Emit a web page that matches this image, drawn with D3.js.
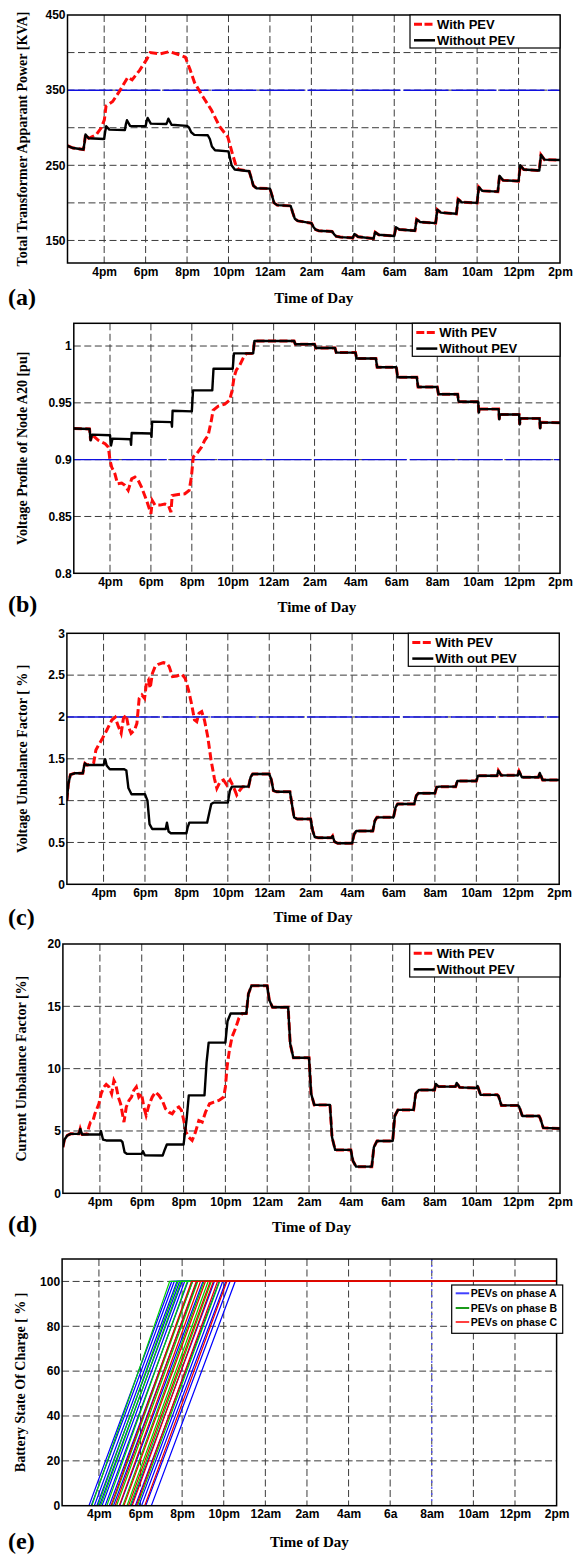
<!DOCTYPE html>
<html><head><meta charset="utf-8">
<script src="https://cdn.jsdelivr.net/npm/d3@7"></script>
<style>body{margin:0;background:#fff}</style>
</head><body><svg id="c" width="573" height="1554" xmlns="http://www.w3.org/2000/svg"></svg>
<script>
// ---------------- DATA ----------------
const timeDomain = [14.23, 38];
const tickHours = [16, 18, 20, 22, 24, 26, 28, 30, 32, 34, 36, 38];
const tickLabels = ["4pm","6pm","8pm","10pm","12am","2am","4am","6am","8am","10am","12pm","2pm"];
const tickLabelsE = ["4pm","6pm","8pm","10pm","12am","2am","4am","6a","8am","10am","12pm","2pm"];

// (a) total transformer apparent power [kVA]
const powerWithout = [[14.23,276],[14.5,273],[15.0,271],[15.05,280],[15.1,291],[15.25,286],[16.0,285],[16.05,295],[16.1,302],[16.25,297.5],[17.0,297],[17.05,305],[17.1,310],[17.25,302.5],[18.0,302],[18.05,309],[18.1,313],[18.25,305.5],[19.0,305],[19.05,308],[19.1,312],[19.25,304],[20.0,302.5],[20.1,300],[20.2,294],[20.35,290.5],[21.0,290],[21.1,285],[21.2,275],[21.35,270],[22.0,268.5],[22.05,262],[22.15,250],[22.3,244.5],[23.0,242],[23.1,233],[23.2,223],[23.35,219.5],[24.0,219],[24.1,210],[24.2,200],[24.35,197],[25.0,196],[25.1,187],[25.2,179],[25.35,176],[26.0,173],[26.1,168],[26.2,164.5],[26.35,163],[27.0,162],[27.1,158],[27.2,155.5],[27.4,154.5],[28.0,153.5],[28.08,158.5],[28.25,155],[29.0,152.5],[29.08,161],[29.25,157.5],[30.0,156],[30.08,167.5],[30.25,164.5],[31.0,163],[31.08,178],[31.25,174.5],[32.0,173],[32.08,191],[32.25,187],[33.0,185.5],[33.08,205],[33.25,201],[34.0,200],[34.08,221],[34.25,216],[35.0,215],[35.08,236],[35.25,230],[36.0,229],[36.08,250],[36.25,244.5],[37.0,243],[37.08,264],[37.25,257.5],[38.0,257]];
const powerPEV = [[15.61,290.6],[15.85,299.5],[16.01,310.6],[16.09,329],[16.41,334.9],[16.78,350.4],[17.14,367.2],[17.35,363.7],[17.7,376],[18.06,391.2],[18.22,400],[18.67,398.2],[19.15,401.3],[19.55,397.8],[19.92,393.8],[20.15,377],[20.36,360.1],[20.76,341.5],[21.17,323.8],[21.57,301.7],[21.97,287.5],[22.18,266.3],[22.37,248.6],[22.5,244.5]];

// (b) voltage profile of node A20 [pu]
const voltWithout = [[14.23,0.9274],[15.0,0.927],[15.05,0.917],[15.12,0.922],[16.0,0.9215],[16.05,0.9125],[16.12,0.9185],[17.0,0.918],[17.03,0.913],[17.06,0.9235],[18.0,0.923],[18.03,0.92],[18.06,0.9335],[19.0,0.933],[19.03,0.929],[19.06,0.943],[20.0,0.9425],[20.06,0.961],[21.0,0.961],[21.06,0.98],[22.0,0.98],[22.06,0.9935],[23.0,0.9935],[23.06,1.0044],[25.0,1.0044],[25.06,1.0015],[26.0,1.0015],[26.06,0.9983],[27.0,0.9983],[27.06,0.9942],[28.0,0.9942],[28.06,0.989],[29.0,0.989],[29.06,0.9813],[30.0,0.9813],[30.06,0.9725],[31.0,0.9725],[31.06,0.964],[32.0,0.964],[32.06,0.9576],[33.0,0.9576],[33.03,0.952],[33.06,0.951],[34.0,0.951],[34.03,0.9415],[34.06,0.9445],[35.0,0.9445],[35.03,0.9355],[35.06,0.9398],[36.0,0.9398],[36.03,0.931],[36.06,0.9363],[37.0,0.9363],[37.03,0.9275],[37.06,0.9328],[38.0,0.9325]];
const voltPEV = [[15.43,0.917],[15.76,0.914],[15.92,0.911],[16.0,0.8994],[16.08,0.8935],[16.24,0.8876],[16.37,0.8788],[16.57,0.8794],[16.73,0.8774],[16.89,0.873],[17.06,0.8832],[17.22,0.8847],[17.38,0.8818],[17.54,0.8759],[17.79,0.8641],[18.0,0.8524],[18.07,0.864],[18.2,0.86],[18.44,0.86],[18.68,0.861],[18.85,0.86],[18.98,0.8538],[19.04,0.8685],[19.33,0.8694],[19.66,0.87],[19.87,0.873],[19.98,0.8847],[20.07,0.9024],[20.23,0.905],[20.47,0.911],[20.63,0.917],[20.8,0.9215],[20.96,0.935],[21.04,0.9435],[21.28,0.947],[21.61,0.9488],[21.85,0.9524],[21.97,0.961],[22.07,0.973],[22.18,0.979],[22.34,0.983],[22.5,0.989],[22.67,0.9935]];

// (c) voltage unbalance factor [%]
const vufWithout = [[14.23,1.0],[14.3,1.2],[14.4,1.31],[14.6,1.327],[15.0,1.327],[15.05,1.4],[15.1,1.446],[15.2,1.426],[16.0,1.426],[16.08,1.494],[16.15,1.42],[16.3,1.375],[17.0,1.375],[17.1,1.36],[17.2,1.15],[17.35,1.076],[18.0,1.076],[18.12,1.0],[18.22,0.72],[18.35,0.661],[19.0,0.661],[19.06,0.737],[19.14,0.63],[19.25,0.61],[20.0,0.61],[20.06,0.68],[20.14,0.737],[21.0,0.737],[21.1,0.85],[21.2,0.96],[21.3,0.976],[22.0,0.976],[22.1,1.12],[22.2,1.167],[23.0,1.167],[23.1,1.28],[23.2,1.319],[24.0,1.319],[24.1,1.25],[24.2,1.12],[24.35,1.107],[25.0,1.107],[25.1,0.95],[25.2,0.8],[25.35,0.78],[26.0,0.78],[26.1,0.64],[26.2,0.565],[26.35,0.557],[27.0,0.557],[27.06,0.577],[27.15,0.51],[27.3,0.49],[28.0,0.49],[28.1,0.6],[28.2,0.637],[29.0,0.637],[29.1,0.76],[29.2,0.8],[30.0,0.8],[30.1,0.92],[30.2,0.96],[31.0,0.96],[31.1,1.06],[31.2,1.088],[32.0,1.088],[32.08,1.16],[32.2,1.167],[33.0,1.167],[33.08,1.235],[34.0,1.235],[34.08,1.298],[35.0,1.298],[35.06,1.358],[35.2,1.302],[36.0,1.302],[36.06,1.352],[36.2,1.279],[37.0,1.279],[37.06,1.33],[37.2,1.247],[38.0,1.247]];
const vufPEV = [[15.52,1.446],[15.63,1.606],[15.76,1.665],[15.95,1.745],[16.16,1.845],[16.4,1.964],[16.56,1.996],[16.72,1.884],[16.85,1.805],[16.96,1.984],[17.09,2.024],[17.2,1.884],[17.33,1.805],[17.5,1.845],[17.61,1.924],[17.72,2.223],[17.85,2.263],[17.98,2.223],[18.07,2.402],[18.17,2.442],[18.25,2.343],[18.36,2.522],[18.49,2.602],[18.65,2.63],[18.89,2.649],[19.05,2.641],[19.17,2.602],[19.33,2.482],[19.54,2.49],[19.78,2.51],[19.94,2.462],[20.1,2.323],[20.26,2.143],[20.39,1.964],[20.5,1.944],[20.61,2.044],[20.74,2.064],[20.87,1.964],[21.03,1.765],[21.19,1.486],[21.35,1.267],[21.47,1.147],[21.63,1.227],[21.79,1.247],[21.95,1.187],[22.11,1.247],[22.27,1.167],[22.43,1.068],[22.59,1.127],[22.72,1.167]];

// (d) current unbalance factor [%]
const cufWithout = [[14.23,3.7],[14.3,4.3],[14.44,4.64],[14.6,4.77],[15.0,4.77],[15.06,5.17],[15.15,4.72],[16.0,4.72],[16.05,4.99],[16.15,4.3],[16.3,4.24],[17.0,4.24],[17.08,4.1],[17.18,3.3],[17.3,3.16],[18.0,3.16],[18.05,3.38],[18.15,3.05],[19.0,3.03],[19.1,3.5],[19.2,3.91],[20.0,3.91],[20.15,6.0],[20.25,7.86],[21.0,7.86],[21.1,10.5],[21.2,12.09],[22.0,12.09],[22.1,13.8],[22.25,14.42],[23.0,14.42],[23.1,16.0],[23.25,16.66],[24.0,16.66],[24.1,15.5],[24.25,14.92],[25.0,14.92],[25.1,12.0],[25.25,10.88],[26.0,10.88],[26.1,8.0],[26.25,7.09],[27.0,7.09],[27.1,4.5],[27.25,3.48],[28.0,3.48],[28.1,2.6],[28.25,2.14],[29.0,2.14],[29.1,3.7],[29.25,4.2],[30.0,4.2],[30.1,6.2],[30.25,6.69],[31.0,6.69],[31.1,8.0],[31.25,8.29],[32.0,8.29],[32.06,8.77],[32.2,8.56],[33.0,8.56],[33.06,8.85],[33.2,8.5],[34.0,8.45],[34.06,8.6],[34.2,7.9],[35.0,7.9],[35.06,7.8],[35.2,7.05],[36.0,7.05],[36.06,6.9],[36.2,6.2],[37.0,6.2],[37.06,6.0],[37.2,5.25],[38.0,5.2]];
const cufPEV = [[15.4,4.75],[15.47,5.31],[15.55,5.71],[15.67,5.84],[15.76,6.38],[15.95,7.18],[16.06,7.99],[16.19,8.53],[16.3,8.74],[16.43,8.53],[16.56,7.99],[16.67,9.06],[16.75,8.8],[16.88,7.72],[16.99,7.18],[17.15,5.71],[17.26,6.92],[17.39,7.45],[17.51,7.72],[17.62,8.26],[17.74,8.53],[17.86,7.72],[17.99,7.99],[18.1,6.92],[18.21,6.25],[18.34,7.05],[18.5,7.72],[18.66,8.12],[18.82,7.86],[18.98,7.45],[19.14,6.78],[19.3,6.51],[19.46,6.38],[19.62,6.78],[19.77,6.92],[19.9,6.65],[20.01,5.84],[20.12,4.91],[20.25,4.5],[20.41,4.24],[20.57,4.91],[20.73,5.84],[20.89,5.71],[21.05,6.51],[21.24,7.18],[21.45,7.32],[21.69,7.45],[21.92,7.72],[22.0,8.53],[22.08,10.13],[22.19,11.47],[22.32,12.55],[22.48,13.22],[22.64,14.02],[22.8,14.42]];

// (e) battery state of charge: charging start / full times (hours)
const phaseAStart = [15.52,15.63,15.78,15.9,16.02,16.15,16.3,16.5,16.7,17.0,17.55,17.75,17.92,18.05,18.25,18.52];
const phaseAEnd   = [19.5,19.62,19.75,19.88,20.0,20.12,20.28,20.5,20.72,21.0,21.55,21.78,21.95,22.1,22.3,22.55];
const phaseBStart = [15.66,15.95,16.08,16.38,16.62,16.85,17.15,17.35,17.5,17.85];
const phaseBEnd   = [19.4,19.8,19.95,20.25,20.5,20.75,21.05,21.25,21.4,21.8];
const phaseCStart = [16.58,16.78,16.98,17.2,17.42,17.6,17.8,18.2];
const phaseCEnd   = [20.45,20.68,20.88,21.12,21.35,21.5,21.7,22.15];
const socLevels = [0, 100];

// ---------------- DRAWING ----------------
const svg = d3.select("#c");
const SANS = "'Liberation Sans', Arial, Helvetica, sans-serif";
const SERIF = "'Liberation Serif', 'Times New Roman', serif";

function combine(base, pev, t0, t1) {
  return base.filter(d => d[0] <= t0).concat(pev, base.filter(d => d[0] >= t1));
}

function panel(cfg) {
  const g = svg.append("g");
  const x = d3.scaleLinear().domain(timeDomain).range([cfg.left, cfg.right]);
  const y = d3.scaleLinear().domain(cfg.yDomain).range([cfg.bottom, cfg.top]);
  const clipId = "clip" + cfg.id;
  svg.append("clipPath").attr("id", clipId).append("rect")
    .attr("x", cfg.left).attr("y", cfg.top)
    .attr("width", cfg.right - cfg.left).attr("height", cfg.bottom - cfg.top);

  // grid
  g.selectAll(".hg").data(cfg.grid).enter().append("line")
    .attr("x1", cfg.left).attr("x2", cfg.right)
    .attr("y1", d => y(d)).attr("y2", d => y(d))
    .attr("stroke", "#3c3c3c").attr("stroke-width", 1).attr("stroke-dasharray", "7,3.5");
  g.selectAll(".vg").data(tickHours.filter(h => h < timeDomain[1])).enter().append("line")
    .attr("x1", d => x(d)).attr("x2", d => x(d))
    .attr("y1", cfg.top).attr("y2", cfg.bottom)
    .attr("stroke", "#3c3c3c").attr("stroke-width", 1).attr("stroke-dasharray", "7,3.5");

  if (cfg.threshold !== undefined) {
    g.append("line").attr("x1", cfg.left).attr("x2", cfg.right)
      .attr("y1", y(cfg.threshold)).attr("y2", y(cfg.threshold))
      .attr("stroke", "#1010e0").attr("stroke-width", cfg.thrW || 1.5)
      .attr("stroke-dasharray", "45,3");
  }
  if (cfg.vmark !== undefined) {
    g.append("line").attr("x1", x(cfg.vmark)).attr("x2", x(cfg.vmark))
      .attr("y1", cfg.top).attr("y2", cfg.bottom)
      .attr("stroke", "#4a4aff").attr("stroke-width", 1.2).attr("stroke-dasharray", "2,4");
  }

  const series = g.append("g").attr("clip-path", `url(#${clipId})`);
  const line = d3.line().x(d => x(d[0])).y(d => y(d[1]));
  cfg.draw(series, line, x, y);

  // box
  g.append("rect").attr("x", cfg.left).attr("y", cfg.top)
    .attr("width", cfg.right - cfg.left).attr("height", cfg.bottom - cfg.top)
    .attr("fill", "none").attr("stroke", "#000").attr("stroke-width", 1.5);

  // axes
  const ax = g.append("g").attr("transform", `translate(0,${cfg.bottom})`)
    .call(d3.axisBottom(x).tickValues(tickHours).tickSize(0).tickPadding(4)
      .tickFormat((d, i) => cfg.xLabels[i]));
  const ay = g.append("g").attr("transform", `translate(${cfg.left},0)`)
    .call(d3.axisLeft(y).tickValues(cfg.ticks).tickSize(0).tickPadding(2)
      .tickFormat(d => String(d)));
  [ax, ay].forEach(a => {
    a.select(".domain").remove();
    a.selectAll("text").attr("font-family", SANS).attr("font-weight", "bold")
      .attr("font-size", 12).attr("fill", "#000");
  });

  // labels
  g.append("text").attr("transform", `translate(${cfg.ylx},${(cfg.top + cfg.bottom) / 2}) rotate(-90)`)
    .attr("text-anchor", "middle").attr("dominant-baseline", "central")
    .attr("font-family", SERIF).attr("font-weight", "bold").attr("font-size", 14)
    .text(cfg.ylabel);
  g.append("text").attr("x", (cfg.left + cfg.right) / 2).attr("y", cfg.xlY)
    .attr("text-anchor", "middle").attr("font-family", SERIF).attr("font-weight", "bold")
    .attr("font-size", 15).text("Time of Day");
  g.append("text").attr("x", 8).attr("y", cfg.letterY)
    .attr("font-family", SERIF).attr("font-weight", "bold").attr("font-size", 24)
    .text(cfg.letter);

  // legend
  const L = cfg.legend;
  const lg = g.append("g");
  lg.append("rect").attr("x", L.x).attr("y", L.y).attr("width", L.w).attr("height", L.h)
    .attr("fill", "#fff").attr("stroke", "#000").attr("stroke-width", 1.2);
  L.items.forEach((it, i) => {
    const yy = L.y + L.rows[i];
    lg.append("line").attr("x1", L.x + L.l0).attr("x2", L.x + L.l1).attr("y1", yy).attr("y2", yy)
      .attr("stroke", it.color).attr("stroke-width", it.w)
      .attr("stroke-dasharray", it.dash || null);
    lg.append("text").attr("x", L.x + L.tx).attr("y", yy).attr("dominant-baseline", "central")
      .attr("font-family", SANS).attr("font-weight", "bold").attr("font-size", L.fs)
      .text(it.label);
  });
}

const RED = "#ff0a0a";
function pevPair(a, b, t0, t1) {
  return function (s, line) {
    s.append("path").attr("d", line(combine(a, b, t0, t1))).attr("fill", "none")
      .attr("stroke", RED).attr("stroke-width", 3).attr("stroke-dasharray", "8,3.5");
    s.append("path").attr("d", line(a)).attr("fill", "none")
      .attr("stroke", "#000").attr("stroke-width", 2.4).attr("stroke-linejoin", "round");
  };
}
function legend2(x, y, w, labels) {
  return { x, y, w, h: 33, rows: [9.3, 25.3], l0: 4, l1: 25, tx: 27, fs: 13,
    items: [{ label: labels[0], color: RED, w: 3, dash: "8,2.5" },
            { label: labels[1], color: "#000", w: 2.5 }] };
}

panel({ id: "a", left: 67.5, right: 560, top: 15, bottom: 263,
  yDomain: [120, 450], grid: [150, 200, 250, 300, 350, 400], ticks: [150, 250, 350, 450],
  threshold: 350, xLabels: tickLabels, ylx: 22, xlY: 303, letter: "(a)", letterY: 305,
  ylabel: "Total Transformer Apparant Power [KVA]",
  draw: pevPair(powerWithout, powerPEV, 15.25, 23.0),
  legend: legend2(410, 15, 150, ["With PEV", "Without PEV"]) });

panel({ id: "b", left: 73.8, right: 560, top: 323.3, bottom: 573.3,
  yDomain: [0.8, 1.02], grid: [0.85, 0.9, 0.95, 1], ticks: [0.8, 0.85, 0.9, 0.95, 1],
  threshold: 0.9, thrW: 1.1, xLabels: tickLabels, ylx: 22.5, xlY: 612, letter: "(b)", letterY: 612,
  ylabel: "Voltage Profile of Node A20 [pu]",
  draw: pevPair(voltWithout, voltPEV, 15.12, 23.0),
  legend: legend2(412.3, 323.3, 147.7, ["With PEV", "Without PEV"]) });

panel({ id: "c", left: 66.9, right: 559.2, top: 633.3, bottom: 884.3,
  yDomain: [0, 3], grid: [0.5, 1, 1.5, 2, 2.5], ticks: [0, 0.5, 1, 1.5, 2, 2.5, 3],
  threshold: 2, xLabels: tickLabels, ylx: 22, xlY: 922, letter: "(c)", letterY: 925,
  ylabel: "Voltage Unbalance Factor [ % ]",
  draw: pevPair(vufWithout, vufPEV, 15.2, 23.0),
  legend: legend2(408.3, 633.3, 150.9, ["With PEV", "With out PEV"]) });

panel({ id: "d", left: 62.9, right: 560, top: 944, bottom: 1193.3,
  yDomain: [0, 20], grid: [5, 10, 15], ticks: [0, 5, 10, 15, 20],
  xLabels: tickLabels, ylx: 21, xlY: 1232, letter: "(d)", letterY: 1232,
  ylabel: "Current Unbalance Factor [%]",
  draw: pevPair(cufWithout, cufPEV, 15.15, 23.0),
  legend: legend2(409.7, 944, 150.3, ["With PEV", "Without PEV"]) });

const phases = [
  { starts: phaseAStart, ends: phaseAEnd, color: "#0000ff", op: 1 },
  { starts: phaseBStart, ends: phaseBEnd, color: "#00d000", op: 1 },
  { starts: phaseCStart, ends: phaseCEnd, color: "#e80000", op: 1 }];

panel({ id: "e", left: 62.1, right: 556.6, top: 1259, bottom: 1505.7,
  yDomain: [0, 110], grid: [20, 40, 60, 80, 100], ticks: [0, 20, 40, 60, 80, 100],
  vmark: 32, xLabels: tickLabelsE, ylx: 20, xlY: 1547, letter: "(e)", letterY: 1549,
  ylabel: "Battery State Of Charge [ % ]",
  draw: function (s, line) {
    phases.forEach(p => {
      p.starts.forEach((st, i) => {
        const pts = [[timeDomain[0], socLevels[0]], [st, socLevels[0]], [p.ends[i], socLevels[1]], [timeDomain[1], socLevels[1]]];
        s.append("path").attr("d", line(pts)).attr("fill", "none")
          .attr("stroke", p.color).attr("stroke-opacity", p.op).attr("stroke-width", 1.2);
      });
    });
  },
  legend: { x: 451.7, y: 1285, w: 111, h: 48.3, rows: [8.3, 23, 37], l0: 4, l1: 17.5, tx: 19, fs: 10.5,
    items: [{ label: "PEVs on phase A", color: "#4040ff", w: 2 },
            { label: "PEVs on phase B", color: "#1a9a1a", w: 2 },
            { label: "PEVs on phase C", color: "#ff4040", w: 2 }] } });
</script>
</body></html>
